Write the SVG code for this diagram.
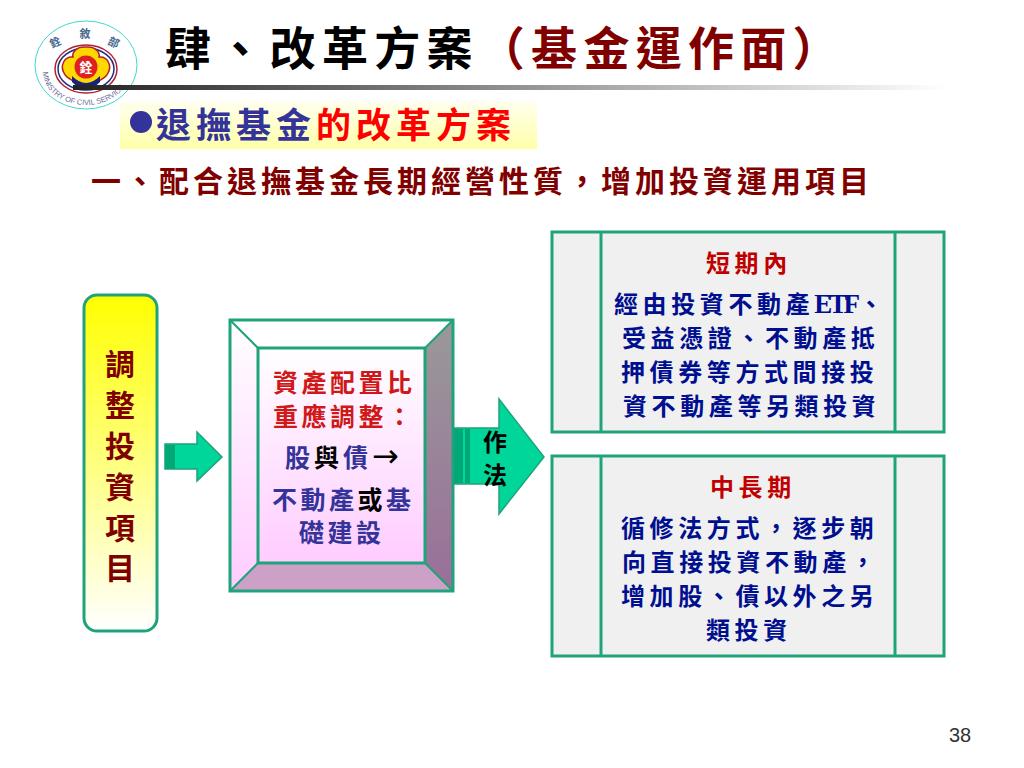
<svg xmlns="http://www.w3.org/2000/svg" xmlns:xlink="http://www.w3.org/1999/xlink" width="1024" height="768" viewBox="0 0 1024 768">
<style>
text{font-family:"Noto Sans CJK TC","Noto Sans CJK SC",sans-serif;font-weight:700}
.ln{stroke:#1fa37a;stroke-width:3}
.ar{fill:#00d69a;stroke:#1fa37a;stroke-width:1.5}
.dk{fill:#00a878}
.red{fill:#c00000}.navy{fill:#000f8f}.blue{fill:#333399}.dred{fill:#800000}
.b24{font-size:24px;letter-spacing:4.6px}
.c25{font-size:25px;letter-spacing:3.5px}
.v{font-size:30px;text-anchor:middle}
</style>
<defs>
<linearGradient id="rule"><stop offset="0" stop-color="#222"/><stop offset="1" stop-color="#fff"/></linearGradient>
<linearGradient id="band" x1="0" y1="0" x2="0" y2="1"><stop offset="0" stop-color="#fffff0"/><stop offset="1" stop-color="#ffffa8"/></linearGradient>
<linearGradient id="yw" x1="0" y1="0" x2="0" y2="1"><stop offset="0" stop-color="#ffff00"/><stop offset="1" stop-color="#ffffff"/></linearGradient>
<linearGradient id="pk" x1="0" y1="0" x2="0" y2="1"><stop offset="0" stop-color="#ffffff"/><stop offset="1" stop-color="#ffccff"/></linearGradient>
<linearGradient id="rt" x1="0" y1="0" x2="0" y2="1"><stop offset="0" stop-color="#999999"/><stop offset="1" stop-color="#996f99"/></linearGradient>
<path id="arc" d="M43,72 A43,33 0 0 0 129,72"/>
</defs>

<g id="logo">
<ellipse cx="86" cy="65" rx="51" ry="44" fill="#fff" stroke="#40d8d0" stroke-width="1"/>
<text x="57" y="46" font-size="11" fill="#4a6a90" transform="rotate(-25 57 46)" text-anchor="middle">銓</text>
<text x="85" y="38" font-size="11" fill="#4a6a90" text-anchor="middle">敘</text>
<text x="112" y="46" font-size="11" fill="#4a6a90" transform="rotate(25 112 46)" text-anchor="middle">部</text>
<ellipse cx="86" cy="69" rx="31" ry="24" fill="#fff" stroke="#b02030" stroke-width="1.5"/>
<ellipse cx="86" cy="69" rx="28" ry="21" fill="none" stroke="#202a80" stroke-width="1.5"/>
<path d="M86,47 C97,46 100,54 99,57 C108,56 112,66 108,73 C105,80 98,79 96,84 L76,84 C74,79 67,80 64,73 C60,66 64,56 73,57 C72,54 75,46 86,47Z" fill="#ffd800" stroke="#b02030" stroke-width="1.5"/>
<path d="M72,76 Q86,90 100,76 L100,82 Q86,96 72,82Z" fill="#1a2080"/>
<circle cx="86" cy="67" r="11.5" fill="#e02020"/>
<text x="86" y="72" font-size="13" fill="#fff" text-anchor="middle">銓</text>
<text font-size="7.5" fill="#6a6a9a" style="font-family:'Liberation Sans',sans-serif;font-weight:400"><textPath xlink:href="#arc" href="#arc">MINISTRY OF CIVIL SERVICE</textPath></text>
</g>

<rect id="rule-line" x="73" y="85" width="875" height="5" fill="url(#rule)"/>

<g id="title">
<text x="165" y="65" font-size="46" letter-spacing="6.3">肆、改革方案<tspan fill="#800000">（基金運作面）</tspan></text>
</g>

<g id="subtitle">
<rect x="120" y="101" width="417" height="48" fill="url(#band)"/>
<circle cx="141" cy="122" r="11" fill="#333399"/>
<text x="156" y="138" font-size="35" letter-spacing="5" fill="#333399">退撫基金<tspan fill="#ff0000">的改革方案</tspan></text>
</g>

<text id="heading" x="91" y="192" font-size="30" letter-spacing="4" fill="#800000">一、配合退撫基金長期經營性質，增加投資運用項目</text>

<g id="node-invest">
<rect class="ln" x="84" y="295" width="73" height="336" rx="13" fill="url(#yw)"/>
<text class="v dred" x="120" y="375">調</text>
<text class="v dred" x="120" y="416">整</text>
<text class="v dred" x="120" y="457">投</text>
<text class="v dred" x="120" y="498">資</text>
<text class="v dred" x="120" y="539">項</text>
<text class="v dred" x="120" y="579">目</text>
</g>

<g id="connectors">
<g id="arrow-1">
<path class="ar" d="M165,444H197V432L222,457L197,481V469H165Z"/>
<rect class="dk" x="165" y="445" width="10" height="24"/>
</g>
<g id="arrow-2">
<path class="ar" d="M454,428H499V399L544,457L499,514V484H454Z"/>
<rect class="dk" x="454" y="429" width="9" height="54"/>
<rect class="dk" x="465" y="429" width="5" height="54"/>
<text x="495" y="451" font-size="24" text-anchor="middle">作</text>
<text x="495" y="484" font-size="24" text-anchor="middle">法</text>
</g>
</g>

<g id="node-bevel">
<path d="M230,320H453L425,348H258Z" fill="#fff"/>
<path d="M230,320L258,348V563L230,591Z" fill="url(#pk)"/>
<path d="M453,320V591L425,563V348Z" fill="url(#rt)"/>
<path d="M230,591L258,563H425L453,591Z" fill="#cda0c8"/>
<rect x="258" y="348" width="167" height="215" fill="url(#pk)"/>
<g class="ln" fill="none">
<rect x="230" y="320" width="223" height="271"/>
<rect x="258" y="348" width="167" height="215"/>
<path d="M230,320L258,348M453,320L425,348M230,591L258,563M453,591L425,563" stroke-width="2"/>
</g>
<text class="c25" x="273" y="392" fill="#d01818">資產配置比</text>
<text class="c25" x="273" y="426" fill="#d01818">重應調整：</text>
<text class="c25" x="285" y="467" style="letter-spacing:4px" fill="#333399">股<tspan fill="#000">與</tspan>債<tspan fill="#000" font-size="32" style="font-family:'DejaVu Sans',sans-serif;font-weight:400;letter-spacing:0">→</tspan></text>
<text class="c25" x="272" y="509" fill="#333399">不動產<tspan fill="#000">或</tspan>基</text>
<text class="c25" x="299" y="542" fill="#333399">礎建設</text>
</g>

<g id="node-short">
<rect class="ln" x="552" y="232" width="392" height="200" fill="#f0f0f0"/>
<path class="ln" d="M601,232V432M895,232V432"/>
<text class="b24 red" x="706" y="272">短期內</text>
<text class="b24 navy" x="614" y="313">經由投資不動產<tspan font-size="27" style="font-family:'Liberation Serif',serif;font-weight:700;letter-spacing:-3.3px">ETF</tspan><tspan dx="2">、</tspan></text>
<text class="b24 navy" x="622" y="347">受益憑證、不動產抵</text>
<text class="b24 navy" x="621" y="381">押債券等方式間接投</text>
<text class="b24 navy" x="623" y="415">資不動產等另類投資</text>
</g>

<g id="node-long">
<rect class="ln" x="552" y="456" width="392" height="200" fill="#f0f0f0"/>
<path class="ln" d="M601,456V656M895,456V656"/>
<text class="b24 red" x="710" y="496">中長期</text>
<text class="b24 navy" x="621" y="537">循修法方式，逐步朝</text>
<text class="b24 navy" x="622" y="571">向直接投資不動產，</text>
<text class="b24 navy" x="621" y="605">增加股、債以外之另</text>
<text class="b24 navy" x="706" y="639">類投資</text>
</g>

<text id="page-number" x="949" y="742" font-size="20" fill="#333" style="font-family:'Liberation Sans',sans-serif;font-weight:400">38</text>
</svg>
